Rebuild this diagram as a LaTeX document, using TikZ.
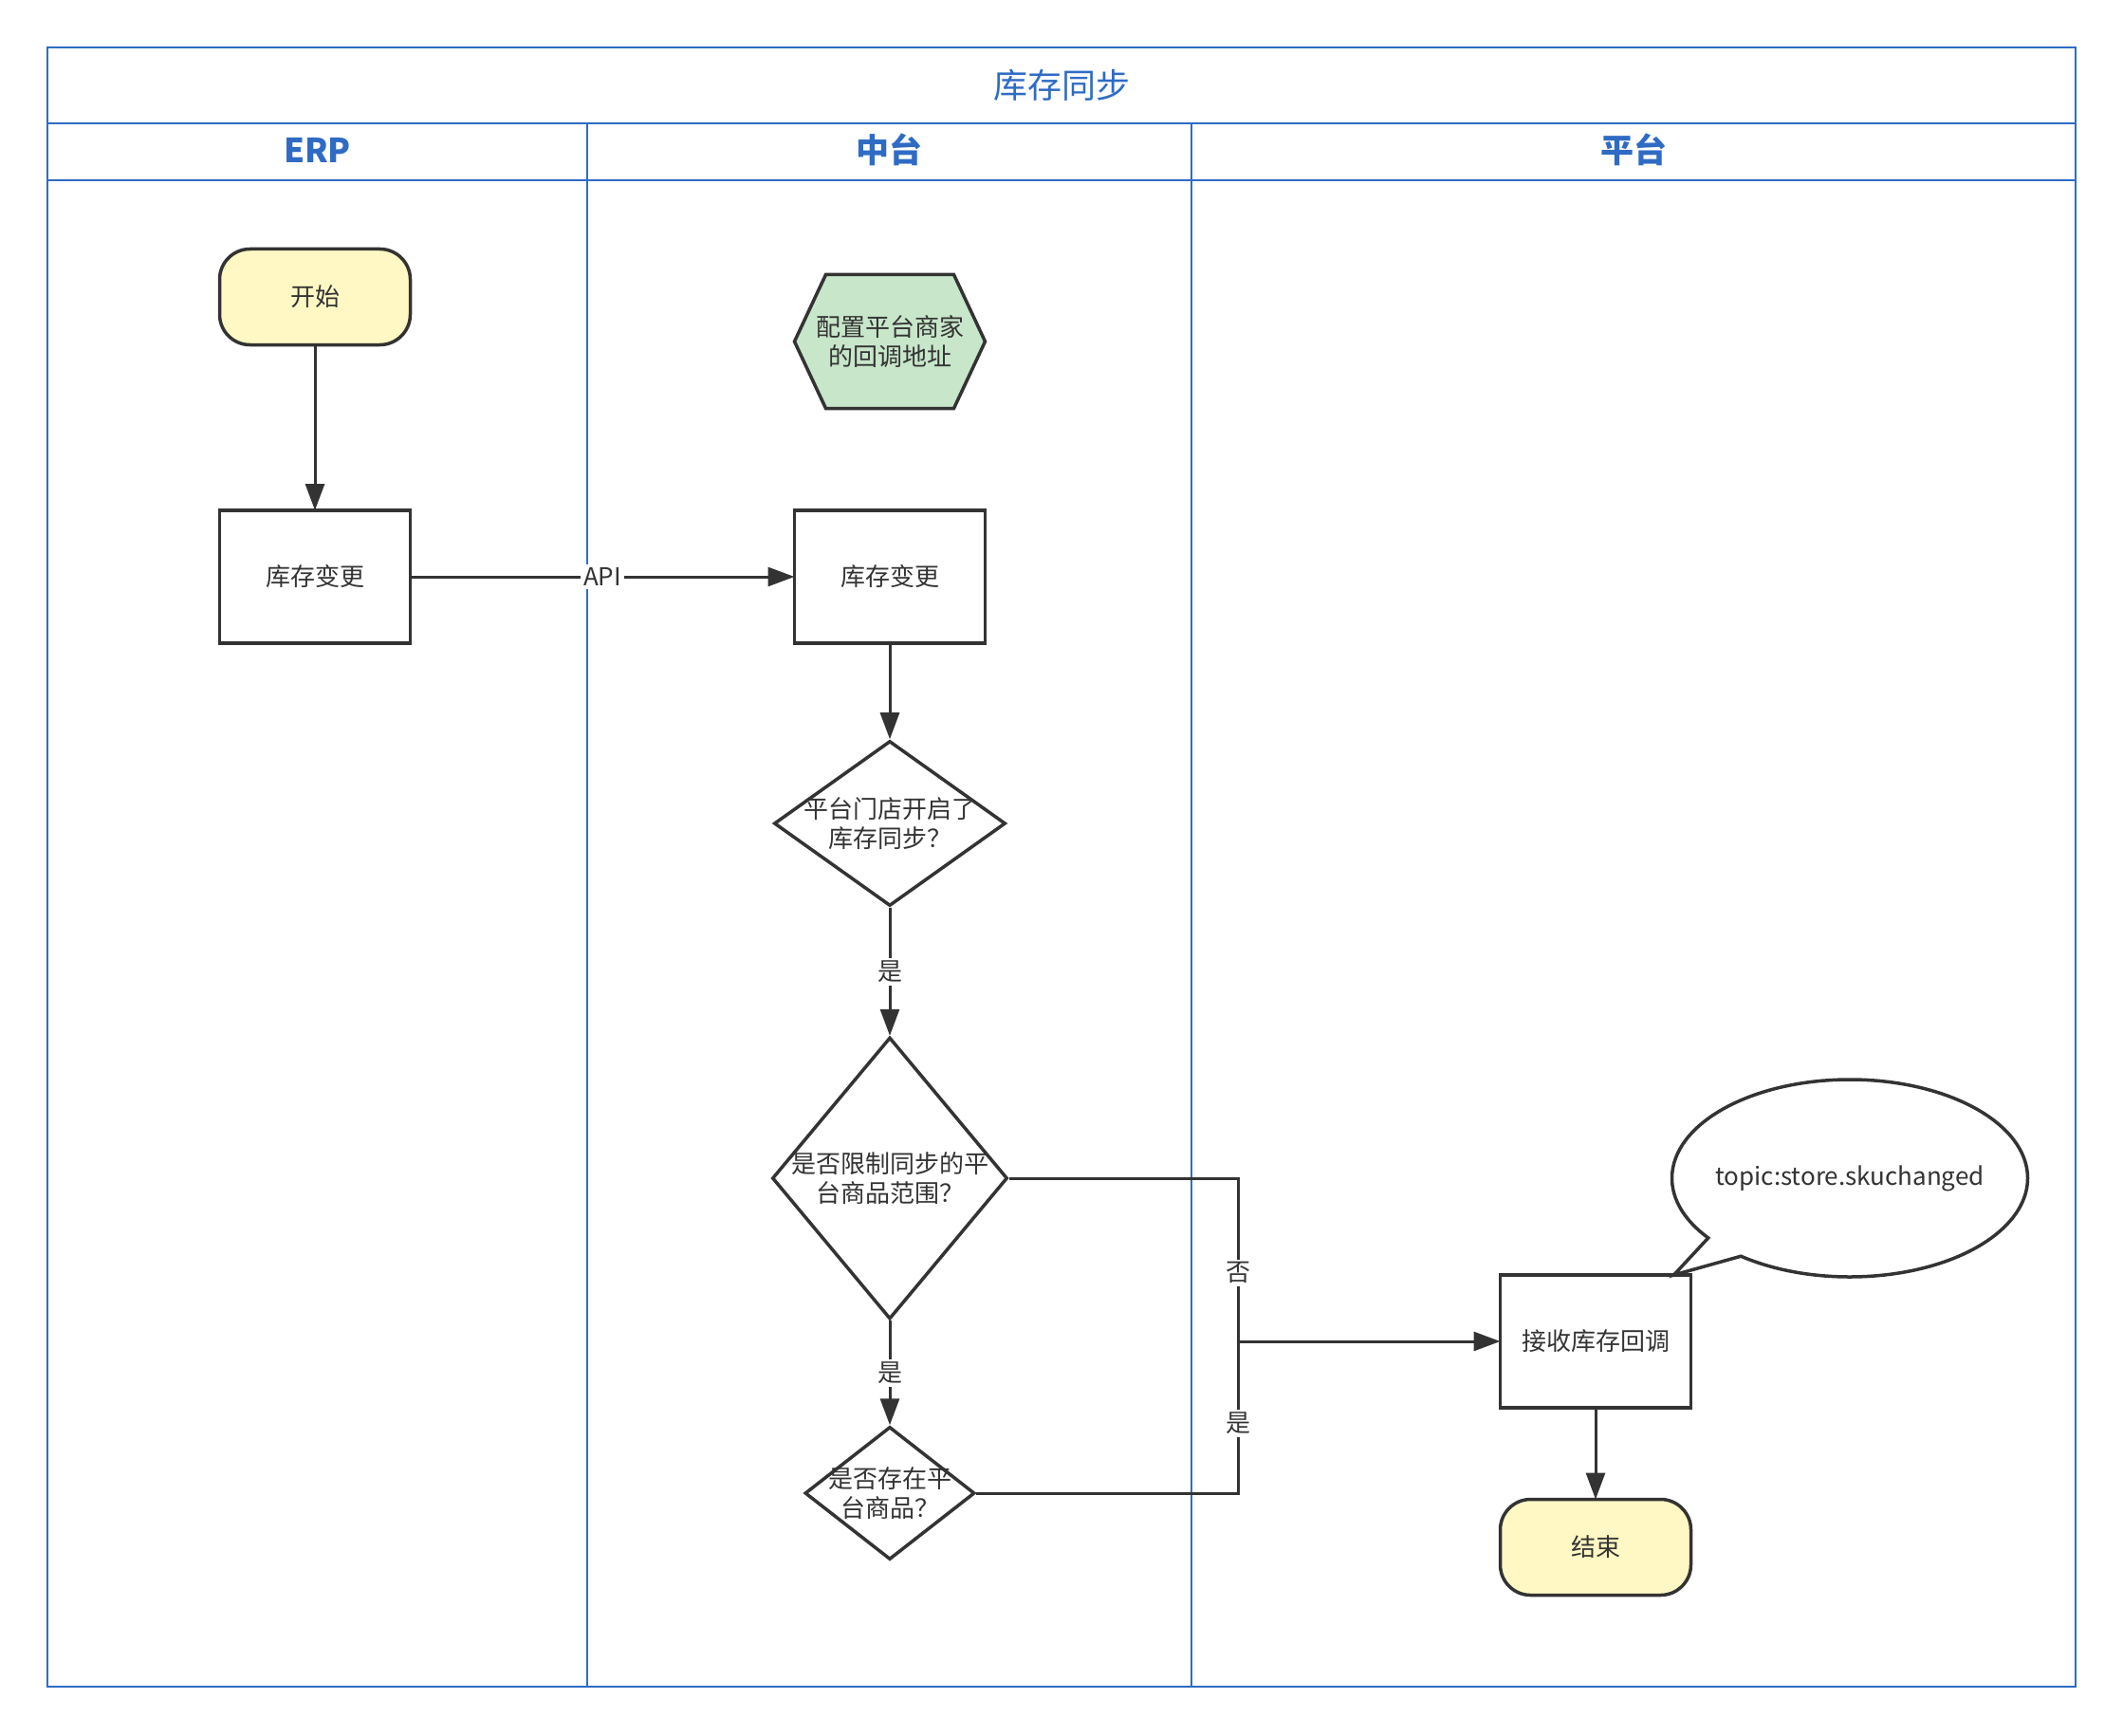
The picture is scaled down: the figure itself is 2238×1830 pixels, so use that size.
\documentclass[tikz,border=0pt]{standalone}
\usepackage{fontspec}
\setmainfont{Noto Sans CJK SC}
\usetikzlibrary{arrows.meta,shapes.geometric,shapes.callouts,backgrounds,math,positioning}

\definecolor{lane}{HTML}{2F6BC4}
\definecolor{ink}{HTML}{333333}
\definecolor{startfill}{HTML}{FFF8C4}
\definecolor{hexfill}{HTML}{C8E6CA}

\begin{document}
\begin{tikzpicture}[x=0.5pt,y=-0.5pt]

\tikzmath{
	\W = 100.5pt;
	\H = 70pt;
}

\tikzset{
  base/.style={font=\fontsize{13}{15.6}\selectfont, text=ink},
  proc/.style={base, draw=ink, line width=1.75pt, fill=white,
    minimum width=\W, minimum height=\H, inner sep=0pt, outer sep=0pt},
  term/.style={proc, fill=startfill, rounded corners=16pt, minimum height=50.5pt},
  hexa/.style={base, align=center, minimum width=\W, minimum height=70.5pt,
    inner sep=0pt, outer sep=0pt},
  decision/.style 2 args={diamond, draw=ink, line width=1.75pt, fill=white,
    inner sep=0pt, minimum width=#1, minimum height=#2},
  dtext/.style={base, align=center},
  bubble/.style={ellipse callout, draw=ink, line width=1.75pt, fill=white,
    minimum width=187.5pt, minimum height=104pt, inner sep=0pt},
  flow/.style={draw=ink, line width=1.5pt, -{Triangle[length=14pt,width=10pt]}},
  link/.style={draw=ink, line width=1.5pt},
  tag/.style={base, fill=white, inner sep=1.5pt},
  laneline/.style={draw=lane, line width=1pt},
  lanehead/.style={font=\fontsize{17.5}{20}\selectfont\bfseries, text=lane}
}

\useasboundingbox (0,0) rectangle (2238,1830);

\draw[laneline] (50,50) rectangle (2188,1778);
\draw[laneline] (50,130) -- (2188,130);
\draw[laneline] (50,190) -- (2188,190);
\foreach \x in {619,1256}
  \draw[laneline] (\x,130) -- (\x,1778);

\node[font=\fontsize{18}{20}\selectfont, text=lane] (title) at (1119,90) {库存同步};
\node[lanehead] (herp) at (334.5,158) {ERP};
\node[lanehead] (hmid) at (937.5,158) {中台};
\node[lanehead] (hplat) at (1722,158) {平台};

\node[term] (start) at (332,313) {开始};
\node[proc] (erp) at (332,608) {库存变更};
\node[hexa] (cfg) at (938,360) {配置平台商家\\的回调地址};
\node[proc] (mid) at (938,608) {库存变更};
\node[decision={122pt}{87pt}, label={[dtext]center:平台门店开启了\\库存同步？}] (sync) at (938,868) {};
\node[decision={124pt}{148.5pt}, label={[dtext]center:是否限制同步的平\\台商品范围？}] (range) at (938,1242) {};
\node[decision={89.5pt}{70pt}, label={[dtext]center:是否存在平\\台商品？}] (exist) at (938,1574) {};
\coordinate (jn) at (1305,1414);
\node[proc] (recv) at (1682,1414) {接收库存回调};
\node[term] (end) at (1682,1631) {结束};
\node[bubble, callout absolute pointer={([xshift=-9pt]recv.north east)},
  label={[base]center:{topic:store.skuchanged}}] (topic) at (1950,1242) {};

\begin{scope}[on background layer]
\filldraw[draw=ink, fill=hexfill, line width=1.75pt] (cfg.west)
  -- ([xshift=16.5pt]cfg.north west) -- ([xshift=-16.5pt]cfg.north east)
  -- (cfg.east) -- ([xshift=-16.5pt]cfg.south east)
  -- ([xshift=16.5pt]cfg.south west) -- cycle;
\end{scope}

\draw[flow] (start) -- (erp);
\draw[flow] (erp) -- node[tag] {API} (mid);
\draw[flow] (mid) -- (sync);
\draw[flow] (sync) -- node[tag] {是} (range);
\draw[flow] (range) -- node[tag] {是} (exist);
\draw[link] (range.east) -| node[tag, pos=0.79] {否} (jn);
\draw[link] (exist.east) -| node[tag, pos=0.73] {是} (jn);
\draw[flow] (jn) -- (recv);
\draw[flow] (recv) -- (end);

\end{tikzpicture}
\end{document}
